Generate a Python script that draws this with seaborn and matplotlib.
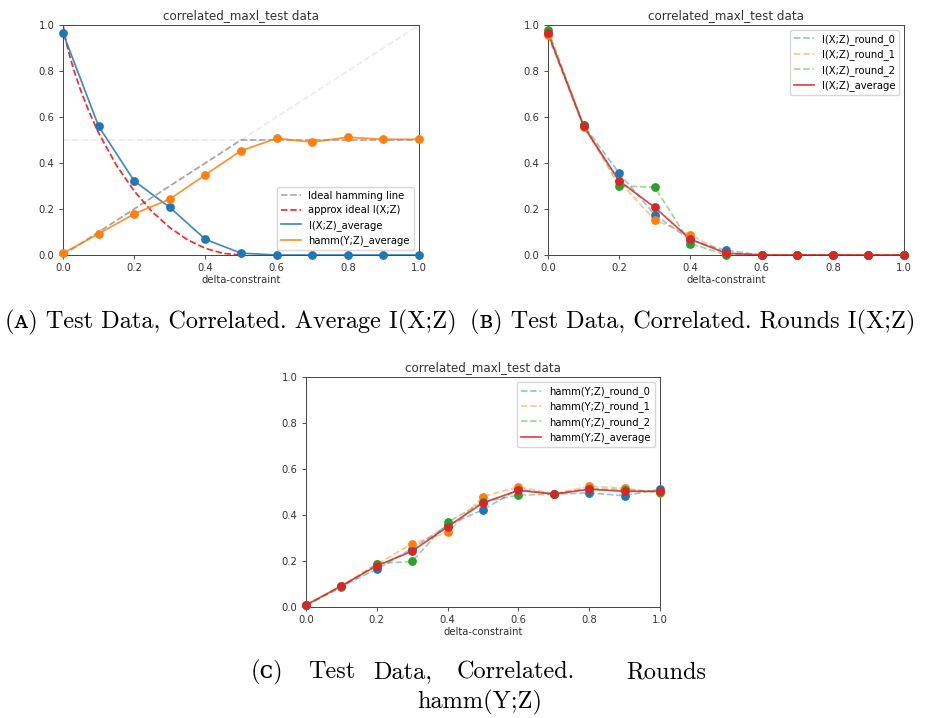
import numpy as np
import pandas as pd
import seaborn as sns
import matplotlib.pyplot as plt

# delta-constraint grid shared by all runs
delta = [0.0, 0.1, 0.2, 0.3, 0.4, 0.5, 0.6, 0.7, 0.8, 0.9, 1.0]

# I(X;Z) per round
ixz_round_0 = [0.960, 0.565, 0.355, 0.175, 0.065, 0.020, 0.0, 0.0, 0.0, 0.0, 0.0]
ixz_round_1 = [0.955, 0.555, 0.320, 0.152, 0.088, 0.005, 0.0, 0.0, 0.0, 0.0, 0.0]
ixz_round_2 = [0.980, 0.565, 0.300, 0.295, 0.050, 0.000, 0.0, 0.0, 0.0, 0.0, 0.0]
ixz_average = [0.965, 0.560, 0.322, 0.207, 0.068, 0.008, 0.0, 0.0, 0.0, 0.0, 0.0]

# hamm(Y;Z) per round
hamm_round_0 = [0.008, 0.090, 0.164, 0.254, 0.355, 0.423, 0.512, 0.491, 0.496, 0.484, 0.512]
hamm_round_1 = [0.008, 0.092, 0.185, 0.276, 0.324, 0.480, 0.522, 0.493, 0.525, 0.516, 0.497]
hamm_round_2 = [0.008, 0.085, 0.189, 0.198, 0.368, 0.456, 0.487, 0.490, 0.515, 0.509, 0.500]
hamm_average = [0.008, 0.092, 0.179, 0.243, 0.349, 0.453, 0.507, 0.491, 0.512, 0.503, 0.503]

# approx ideal I(X;Z) curve (red dashed in panel A)
approx_x = [0.0, 0.01, 0.02, 0.03, 0.05, 0.075, 0.1, 0.15, 0.2, 0.25, 0.3, 0.35, 0.4, 0.45, 0.5]
approx_y = [1.0, 0.919, 0.859, 0.806, 0.714, 0.616, 0.531, 0.390, 0.278, 0.189, 0.119, 0.066, 0.029, 0.007, 0.0]

# ideal hamming line
ideal_x = [0.0, 0.5, 1.0]
ideal_y = [0.0, 0.5, 0.5]

W, H = 948, 718
fig = plt.figure(figsize=(W / 100, H / 100), dpi=100)


def px_axes(l, r, t, b):
    return fig.add_axes([l / W, 1 - b / H, (r - l) / W, (b - t) / H])


def style_axes(ax):
    ax.set_xlim(0, 1)
    ax.set_ylim(0, 1)
    ax.set_xticks(np.arange(0, 1.01, 0.2))
    ax.set_yticks(np.arange(0, 1.01, 0.2))
    ax.tick_params(labelsize=7.2, length=2.6, width=0.6, colors='#333333')
    for s in ax.spines.values():
        s.set_linewidth(0.7)
        s.set_color('#444444')
    ax.set_title('correlated_maxl_test data', fontsize=8.6, color='#333333', pad=4)
    ax.set_xlabel('delta-constraint', fontsize=7.2, color='#333333', labelpad=1)
    ax.set_ylabel('')


lw = 1.25
ms = 40

# ---- panel A ----
axA = px_axes(63, 419, 25, 255)
sns.lineplot(x=[0, 1], y=[0, 1], ax=axA, color='grey', alpha=0.15, linestyle='--', lw=lw)
sns.lineplot(x=[0, 1], y=[0.5, 0.5], ax=axA, color='grey', alpha=0.15, linestyle='--', lw=lw)
sns.lineplot(x=ideal_x, y=ideal_y, ax=axA, color='grey', alpha=0.65, linestyle='--', lw=lw,
             label='Ideal hamming line')
sns.lineplot(x=approx_x, y=approx_y, ax=axA, color='red', alpha=0.85, linestyle='--', lw=lw,
             label='approx ideal I(X;Z)')
sns.lineplot(x=delta, y=ixz_average, ax=axA, color='tab:blue', alpha=0.85, lw=lw,
             label='I(X;Z)_average')
sns.scatterplot(x=delta, y=ixz_average, ax=axA, color='tab:blue', s=ms, linewidth=0, clip_on=False, zorder=3)
sns.lineplot(x=delta, y=hamm_average, ax=axA, color='tab:orange', alpha=0.85, lw=lw,
             label='hamm(Y;Z)_average')
sns.scatterplot(x=delta, y=hamm_average, ax=axA, color='tab:orange', s=ms, linewidth=0, clip_on=False, zorder=3)
style_axes(axA)
axA.legend(loc='lower right', fontsize=7.2, handlelength=2.0, framealpha=0.8, borderpad=0.4,
           labelspacing=0.45)


def rounds_panel(ax, rounds, avg, name):
    cols = ['tab:blue', 'tab:orange', 'tab:green']
    for i, r in enumerate(rounds):
        sns.lineplot(x=delta, y=r, ax=ax, color=cols[i], alpha=0.45, linestyle='--', lw=lw,
                     label=f'{name}_round_{i}')
        sns.scatterplot(x=delta, y=r, ax=ax, color=cols[i], s=ms, linewidth=0, clip_on=False, zorder=3)
    sns.lineplot(x=delta, y=avg, ax=ax, color='tab:red', alpha=0.85, lw=lw, label=f'{name}_average')
    sns.scatterplot(x=delta, y=avg, ax=ax, color='tab:red', s=ms, linewidth=0, clip_on=False, zorder=4)
    style_axes(ax)
    ax.legend(loc='upper right', fontsize=7.2, handlelength=2.0, framealpha=0.8, borderpad=0.4,
              labelspacing=0.45)


# ---- panel B ----
axB = px_axes(548, 904, 25, 255)
rounds_panel(axB, [ixz_round_0, ixz_round_1, ixz_round_2], ixz_average, 'I(X;Z)')

# ---- panel C ----
axC = px_axes(306, 660, 377, 607)
rounds_panel(axC, [hamm_round_0, hamm_round_1, hamm_round_2], hamm_average, 'hamm(Y;Z)')

# ---- captions ----
cap_font = ['cmr10', 'DejaVu Serif', 'DejaVu Sans']
cap_size = 17.5


def cap(x, y, s, ha='left'):
    fig.text(x / W, 1 - y / H, s, ha=ha, va='center', fontsize=cap_size, family=cap_font)


cap(5, 322, '(ᴀ) Test Data, Correlated. Average I(X;Z)')
cap(470, 322, '(ʙ) Test Data, Correlated. Rounds I(X;Z)')
for x, word in [(251, '(ᴄ)'), (308, 'Test'), (373, 'Data,'), (457, 'Correlated.'), (626, 'Rounds')]:
    cap(x, 672, word)
cap(480, 702, 'hamm(Y;Z)', ha='center')

fig.savefig('out.png', dpi=100)
